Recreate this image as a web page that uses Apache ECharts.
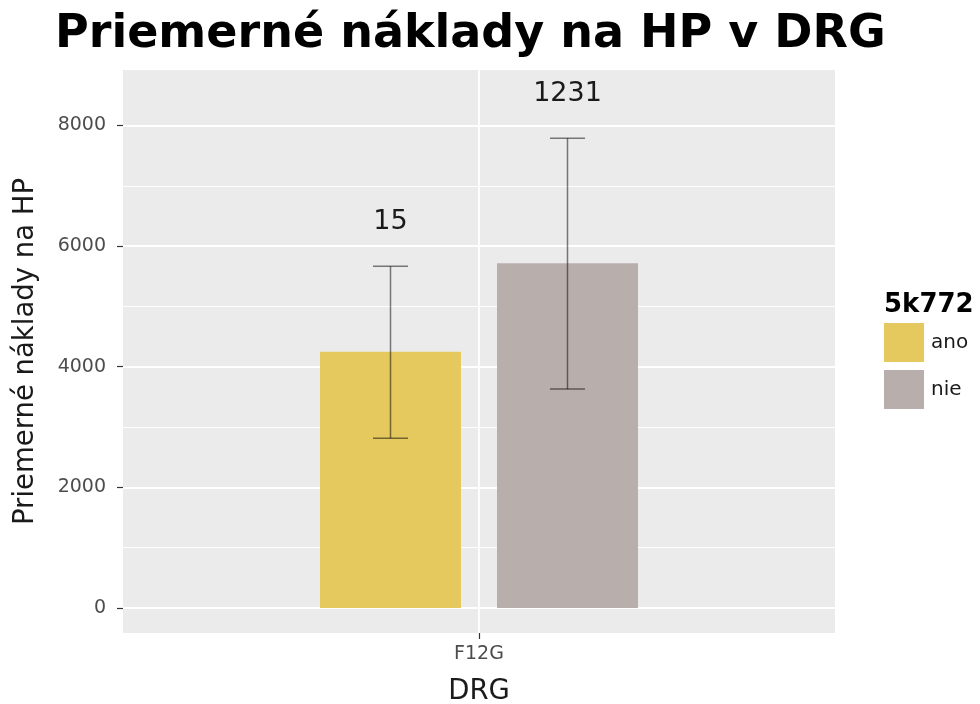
<!DOCTYPE html>
<html>
<head>
<meta charset="utf-8">
<script src="https://cdn.jsdelivr.net/npm/echarts@6/dist/echarts.min.js"></script>
<style>
html, body { margin: 0; padding: 0; background: #fff; }
#chart { width: 980px; height: 704px; }
</style>
</head>
<body>
<div id="chart"></div>
<script>
var categories = ['F12G'];
var groups = ['ano', 'nie'];
var means = [4250, 5715];
var lower = [2815, 3630];
var upper = [5665, 7790];
var counts = [15, 1231];
var yTicks = [0, 2000, 4000, 6000, 8000];
var gridMajor = [0, 2000, 4000, 6000, 8000];
var gridMinor = [1000, 3000, 5000, 7000];

var colors = ['#E5C95E', '#B8AFAC'];
var font = 'DejaVu Sans';
var barWidth = 141;
var barGapPx = 36;

var myChart = echarts.init(document.getElementById('chart'));

function errorSeries(idx) {
    return {
        type: 'custom',
        name: groups[idx] + '-err',
        z: 5,
        silent: true,
        data: categories.map(function (c, i) {
            return [i, lower[idx], upper[idx], counts[idx]];
        }),
        renderItem: function (params, api) {
            var total = barWidth * 2 + barGapPx;
            var base = api.coord([api.value(0), 0]);
            var cx = base[0] - total / 2 + barWidth / 2 + idx * (barWidth + barGapPx);
            var lo = api.coord([api.value(0), api.value(1)])[1];
            var hi = api.coord([api.value(0), api.value(2)])[1];
            var half = 17.5;
            var st = { stroke: 'rgba(0,0,0,0.5)', lineWidth: 1.5 };
            return {
                type: 'group',
                children: [
                    { type: 'line', shape: { x1: cx, y1: lo, x2: cx, y2: hi }, style: st },
                    { type: 'line', shape: { x1: cx - half, y1: lo, x2: cx + half, y2: lo }, style: st },
                    { type: 'line', shape: { x1: cx - half, y1: hi, x2: cx + half, y2: hi }, style: st },
                    {
                        type: 'text',
                        x: cx, y: hi - 44,
                        style: {
                            text: String(api.value(3)),
                            fontFamily: font, fontSize: 27, fill: '#1a1a1a',
                            align: 'center', verticalAlign: 'middle'
                        }
                    }
                ]
            };
        }
    };
}

function gridLines(values, width) {
    return values.map(function (v) { return { yAxis: v, lineStyle: { width: width } }; });
}

var errAno = errorSeries(0);
errAno.markLine = {
    silent: true, symbol: 'none', label: { show: false }, z: 1,
    lineStyle: { color: '#ffffff', type: 'solid', width: 1.8 },
    data: [{ xAxis: categories[0] }]
};

var option = {
    animation: false,
    backgroundColor: '#ffffff',
    title: [{
        text: 'Priemerné náklady na HP v DRG',
        left: 50, top: 7,
        textStyle: { fontFamily: font, fontWeight: 'bold', fontSize: 46, color: '#000' }
    }, {
        text: '5k772',
        left: 884, top: 292,
        padding: 0,
        textStyle: { fontFamily: font, fontWeight: 'bold', fontSize: 26, color: '#000' }
    }],
    legend: {
        orient: 'vertical',
        left: 884, top: 323,
        padding: 0,
        itemWidth: 40, itemHeight: 39, itemGap: 8,
        icon: 'rect',
        data: groups,
        textStyle: { fontFamily: font, fontSize: 20, color: '#1a1a1a', padding: [0, 0, 0, 2] }
    },
    grid: {
        left: 123, right: 145, top: 70, bottom: 71,
        outerBoundsMode: 'none',
        containLabel: false,
        show: true, backgroundColor: '#EBEBEB', borderWidth: 0
    },
    xAxis: {
        type: 'category',
        data: categories,
        name: 'DRG',
        nameLocation: 'middle',
        nameGap: 45,
        nameTextStyle: { fontFamily: font, fontSize: 27.5, color: '#1a1a1a' },
        axisLine: { show: false, onZero: false },
        axisTick: { show: true, alignWithLabel: true, length: 6, lineStyle: { color: '#333', width: 1.2 } },
        axisLabel: { fontFamily: font, fontSize: 19, color: '#4d4d4d', margin: 12 },
        splitLine: { show: false }
    },
    yAxis: {
        type: 'value',
        min: -415, max: 8920,
        name: 'Priemerné náklady na HP',
        nameLocation: 'middle',
        nameGap: 83,
        nameTextStyle: { fontFamily: font, fontSize: 27.5, color: '#1a1a1a' },
        axisLine: { show: false, onZero: false },
        axisTick: { show: true, customValues: yTicks, length: 6, lineStyle: { color: '#333', width: 1.2 } },
        axisLabel: {
            customValues: yTicks, fontFamily: font, fontSize: 19, color: '#4d4d4d', margin: 17,
            formatter: function (v) { return String(v); }
        },
        splitLine: { show: false }
    },
    series: [{
        type: 'bar',
        name: groups[0],
        data: [means[0]],
        barWidth: barWidth,
        barGap: (barGapPx / barWidth * 100) + '%',
        itemStyle: { color: colors[0] },
        z: 3,
        markLine: {
            silent: true, symbol: 'none', label: { show: false }, z: 1,
            lineStyle: { color: '#ffffff', type: 'solid' },
            data: gridLines(gridMajor, 1.8).concat(gridLines(gridMinor, 0.9))
        }
    }, {
        type: 'bar',
        name: groups[1],
        data: [means[1]],
        barWidth: barWidth,
        itemStyle: { color: colors[1] },
        z: 3
    }, errAno, errorSeries(1)]
};

myChart.setOption(option);
</script>
</body>
</html>
